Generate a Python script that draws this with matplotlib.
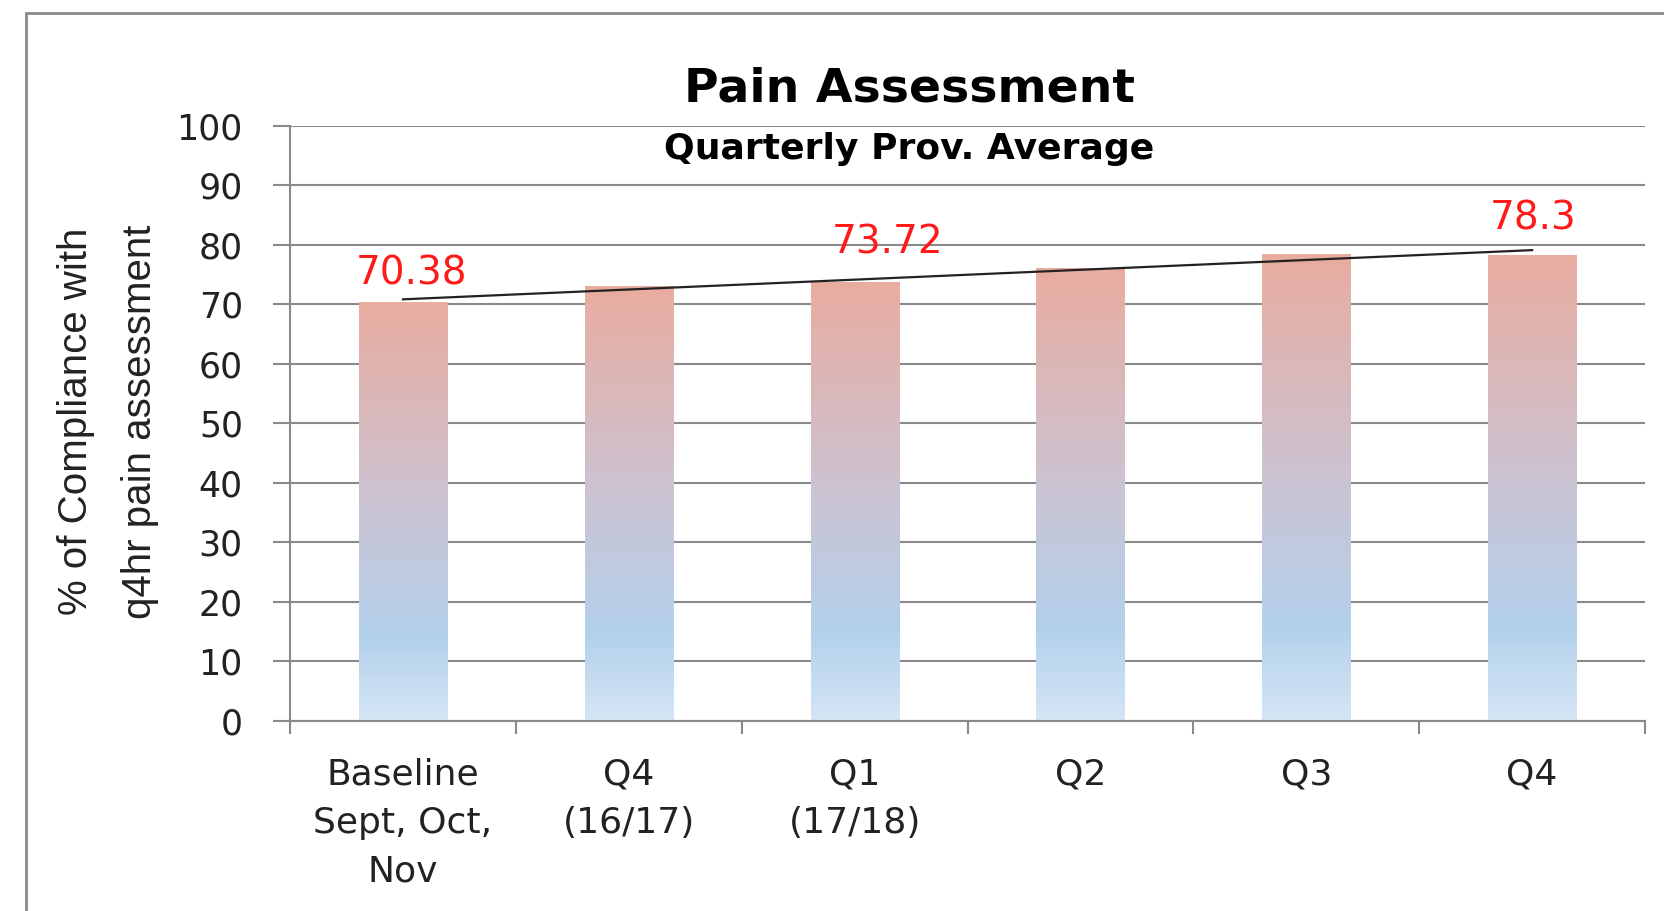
import matplotlib
matplotlib.use('Agg')
import matplotlib.pyplot as plt
import numpy as np
from matplotlib.colors import LinearSegmentedColormap
from matplotlib.patches import Rectangle

# Data
categories = ["Baseline\nSept, Oct,\nNov", "Q4\n(16/17)", "Q1\n(17/18)", "Q2", "Q3", "Q4"]
compliance = [70.38, 73.1, 73.72, 76.1, 78.4, 78.3]
labelled = [0, 2, 5]          # bars that carry a red data label
label_text = ["70.38", "73.72", "78.3"]
yticks = list(range(0, 101, 10))

# Label offsets (points) - hand placed in the original
label_dx = [6, 24, 1]
label_dy = [21, 29, 26]

grey = '#8a8a8a'

fig = plt.figure(figsize=(16.65, 9.11), dpi=100)
ax = fig.add_axes([0.1742, 0.2086, 0.8138, 0.6531])

x = np.arange(len(categories))
bars = ax.bar(x, compliance, width=0.39, color='none', edgecolor='none', zorder=2)

# Gradient fill for each bar (pink at the top, blue near the bottom)
grad_cmap = LinearSegmentedColormap.from_list('bar_grad', [
    (0.0, '#d5e5f5'),
    (0.2, '#b3d1eb'),
    (0.5, '#cac4d4'),
    (1.0, '#e9aca0'),
])
gradient = np.linspace(0, 1, 256).reshape(-1, 1)
for b in bars:
    ax.imshow(gradient, cmap=grad_cmap, aspect='auto', origin='lower',
              extent=[b.get_x(), b.get_x() + b.get_width(), 0, b.get_height()],
              zorder=2, interpolation='bicubic')

# Linear trend line
coef = np.polyfit(x, compliance, 1)
ax.plot([x[0], x[-1]], np.polyval(coef, [x[0], x[-1]]), color='#222222', linewidth=1.6, zorder=3)

# Red data labels
for i, txt, dx, dy in zip(labelled, label_text, label_dx, label_dy):
    ax.annotate(txt, (x[i], compliance[i]), xytext=(dx, dy), textcoords='offset points',
                ha='center', va='center', color='#ff1a1a', fontsize=28,
                family='DejaVu Sans')

ax.set_xlim(-0.5, len(categories) - 0.5)
ax.set_ylim(0, 100)
ax.set_yticks(yticks)
ax.set_yticklabels([str(t) for t in yticks], fontsize=25, family='DejaVu Sans', color='#222222')

# Category labels at bar centres, tick marks at the boundaries
ax.set_xticks(x)
ax.set_xticklabels(categories, fontsize=26, family='DejaVu Sans', color='#222222', linespacing=1.55)
ax.set_xticks(np.arange(-0.5, len(categories)), minor=True)
ax.tick_params(axis='x', which='major', length=0, pad=26)
ax.tick_params(axis='x', which='minor', length=9, width=1.5, color=grey, direction='out')
ax.tick_params(axis='y', which='major', length=12, width=1.5, color=grey, direction='out', pad=22)

# Horizontal grid only
ax.set_axisbelow(True)
ax.yaxis.grid(color=grey, linestyle='-', linewidth=1.5)

# Spines
ax.spines['top'].set_visible(False)
ax.spines['right'].set_visible(False)
ax.spines['left'].set_color(grey)
ax.spines['bottom'].set_color(grey)
ax.spines['left'].set_linewidth(1.5)
ax.spines['bottom'].set_linewidth(1.5)

# Titles
fig.text(0.546, 0.902, 'Pain Assessment', ha='center', va='center', fontsize=34,
         fontweight='bold', family='DejaVu Sans')
fig.text(0.546, 0.836, 'Quarterly Prov. Average', ha='center', va='center', fontsize=26,
         fontweight='bold', family='DejaVu Sans')

# Y axis title (two lines)
fig.text(0.065, 0.537, '% of Compliance with\nq4hr pain assessment', rotation=90,
         ha='center', va='center', fontsize=29, linespacing=1.85,
         family=['Liberation Sans Narrow', 'Liberation Sans', 'DejaVu Sans'], color='#222222')

# Chart area border (only top and left edges fall inside the image)
fig.patches.append(Rectangle((26 / 1665, -0.1), 1.2, 0.1 + 1 - 13 / 911, transform=fig.transFigure,
                             fill=False, edgecolor=grey, linewidth=2))

fig.savefig('out.png', dpi=100)
